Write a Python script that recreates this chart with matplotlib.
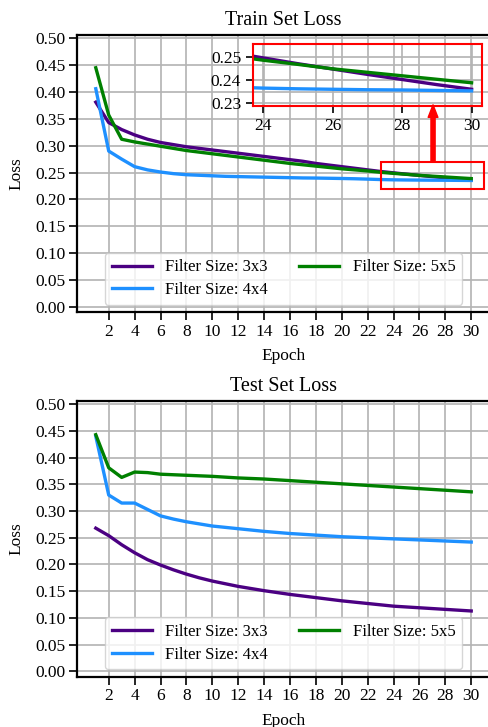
import matplotlib
matplotlib.use('Agg')

import numpy as np
import matplotlib.pyplot as plt
from matplotlib.patches import Rectangle
from matplotlib.ticker import FormatStrFormatter

plt.rcParams['font.family'] = ['Liberation Serif', 'DejaVu Serif']

# epochs and loss values
epochs = [1, 2, 3, 4, 5, 6, 7, 8, 9, 10, 11, 12, 13, 14, 15,
          16, 17, 18, 19, 20, 21, 22, 23, 24, 25, 26, 27, 28, 29, 30]

train_3x3 = [0.381, 0.343, 0.330, 0.320, 0.312, 0.306, 0.302, 0.298, 0.295, 0.292,
             0.289, 0.286, 0.283, 0.280, 0.277, 0.274, 0.271, 0.267, 0.264, 0.261,
             0.258, 0.255, 0.252, 0.2495, 0.247, 0.2447, 0.2424, 0.2402, 0.238, 0.236]
train_4x4 = [0.406, 0.290, 0.275, 0.261, 0.255, 0.251, 0.248, 0.246, 0.245, 0.244,
             0.243, 0.2425, 0.242, 0.2415, 0.241, 0.2405, 0.240, 0.2398, 0.2394, 0.239,
             0.2385, 0.2378, 0.237, 0.2365, 0.2362, 0.236, 0.2358, 0.2357, 0.2355, 0.2353]
train_5x5 = [0.445, 0.357, 0.312, 0.307, 0.303, 0.299, 0.295, 0.291, 0.288, 0.285,
             0.282, 0.279, 0.276, 0.273, 0.270, 0.267, 0.2645, 0.262, 0.2595, 0.257,
             0.255, 0.253, 0.2505, 0.2485, 0.2467, 0.2448, 0.2433, 0.2418, 0.2403, 0.2388]

test_3x3 = [0.268, 0.254, 0.237, 0.222, 0.209, 0.199, 0.190, 0.182, 0.175, 0.169,
            0.164, 0.159, 0.155, 0.151, 0.1475, 0.144, 0.141, 0.138, 0.135, 0.132,
            0.1295, 0.127, 0.1245, 0.122, 0.1205, 0.119, 0.1175, 0.116, 0.1145, 0.113]
test_4x4 = [0.440, 0.330, 0.315, 0.315, 0.303, 0.291, 0.285, 0.280, 0.276, 0.272,
            0.2695, 0.267, 0.2645, 0.262, 0.260, 0.258, 0.2565, 0.255, 0.2535, 0.252,
            0.251, 0.250, 0.249, 0.248, 0.247, 0.246, 0.245, 0.244, 0.243, 0.242]
test_5x5 = [0.443, 0.381, 0.363, 0.373, 0.372, 0.369, 0.368, 0.367, 0.366, 0.365,
            0.3635, 0.362, 0.361, 0.360, 0.3585, 0.357, 0.3555, 0.354, 0.3525, 0.351,
            0.3495, 0.348, 0.3465, 0.345, 0.3435, 0.342, 0.3405, 0.339, 0.3375, 0.336]

labels = ['Filter Size: 3x3', 'Filter Size: 4x4', 'Filter Size: 5x5']
colors = ['indigo', 'dodgerblue', 'green']
yticks = [0.00, 0.05, 0.10, 0.15, 0.20, 0.25, 0.30, 0.35, 0.40, 0.45, 0.50]
xticks = list(range(2, 31, 2))
inset_xticks = [24, 26, 28, 30]
inset_yticks = [0.23, 0.24, 0.25]

FS = 12.5


def style_axes(ax, title):
  ax.set_xlim(-0.45, 31.45)
  ax.set_ylim(-0.01, 0.506)
  ax.set_xticks(xticks)
  ax.set_yticks(yticks)
  ax.yaxis.set_major_formatter(FormatStrFormatter('%.2f'))
  ax.tick_params(labelsize=FS, length=5.5, width=1.2, pad=3)
  ax.grid(True, color='0.7', linewidth=1.2)
  ax.set_axisbelow(True)
  for sp in ax.spines.values():
    sp.set_linewidth(1.6)
  ax.set_title(title, fontsize=14.5, pad=7.5)
  ax.set_xlabel('Epoch', fontsize=FS, labelpad=6)
  ax.set_ylabel('Loss', fontsize=FS, labelpad=7.5)


def draw_lines(ax, series):
  for vals, lab, col in zip(series, labels, colors):
    ax.plot(epochs, vals, color=col, linewidth=2.4, label=lab)
  handles, labs = ax.get_legend_handles_labels()
  ax.legend(handles, labs, loc='lower center', ncol=2, fontsize=12,
            handlelength=2.4, columnspacing=1.9, labelspacing=0.4,
            borderaxespad=0.45)


fig = plt.figure(figsize=(4.88, 7.27), dpi=100)

ax1 = fig.add_axes([0.1578, 0.5704, 0.8463, 0.3815])
style_axes(ax1, 'Train Set Loss')
draw_lines(ax1, [train_3x3, train_4x4, train_5x5])

# zoom box and arrow
ax1.add_patch(Rectangle((23, 0.22), 8, 0.05, fill=False, edgecolor='red',
                        linewidth=1.5, zorder=5))
ax1.annotate('', xy=(27.05, 0.376), xytext=(27.05, 0.27),
             arrowprops=dict(facecolor='red', edgecolor='red', width=3,
                             headwidth=7, headlength=9, shrink=0))

# inset
axin = fig.add_axes([0.5184, 0.8542, 0.4693, 0.0853])
axin.patch.set_alpha(0)
for vals, col in zip([train_3x3, train_4x4, train_5x5], colors):
  axin.plot(epochs, vals, color=col, linewidth=2.4)
axin.set_xlim(23.7, 30.3)
axin.set_ylim(0.2288, 0.2555)
axin.set_xticks(inset_xticks)
axin.set_yticks(inset_yticks)
axin.yaxis.set_major_formatter(FormatStrFormatter('%.2f'))
axin.tick_params(labelsize=FS, length=5, width=1.2, pad=3.5)
axin.grid(True, color='0.7', linewidth=1.2)
for sp in axin.spines.values():
  sp.set_color('red')
  sp.set_linewidth(1.5)

ax2 = fig.add_axes([0.1578, 0.0692, 0.8463, 0.3792])
style_axes(ax2, 'Test Set Loss')
draw_lines(ax2, [test_3x3, test_4x4, test_5x5])

fig.savefig('out.png', dpi=100)
